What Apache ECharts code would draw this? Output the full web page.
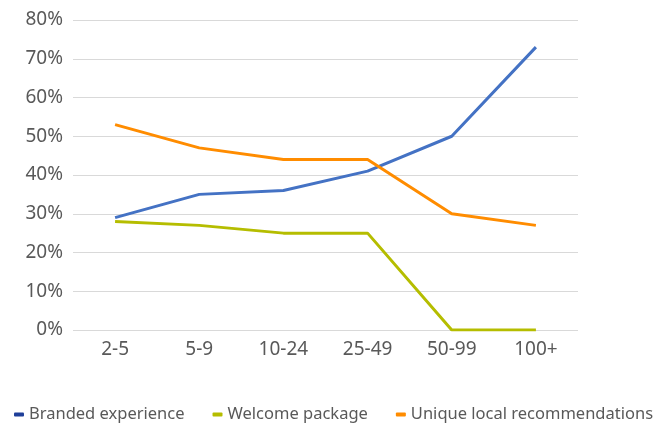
<!DOCTYPE html>
<html>
<head>
<meta charset="utf-8">
<script src="https://cdn.jsdelivr.net/npm/echarts@6/dist/echarts.min.js"></script>
<style>
  html, body { margin: 0; padding: 0; background: #fff; }
  #chart { width: 670px; height: 423px; }
</style>
</head>
<body>
<div id="chart"></div>
<script>
var categories = ['2-5', '5-9', '10-24', '25-49', '50-99', '100+'];
var branded = [29, 35, 36, 41, 50, 73];
var welcome = [28, 27, 25, 25, 0, 0];
var unique = [53, 47, 44, 44, 30, 27];

var chart = echarts.init(document.getElementById('chart'));

function line(name, data, color) {
  return {
    name: name,
    type: 'line',
    data: data,
    symbol: 'none',
    lineStyle: { color: color, width: 3 },
    itemStyle: { color: color }
  };
}

chart.setOption({
  animation: false,
  textStyle: { fontFamily: 'Noto Sans' },
  grid: { left: 73, right: 92, top: 20, bottom: 93 },
  legend: {
    bottom: -5,
    left: 9,
    icon: 'roundRect',
    itemWidth: 10,
    itemHeight: 4,
    itemGap: 28,
    textStyle: { color: '#595959', fontSize: 16.5 },
    data: [
      { name: 'Branded experience', itemStyle: { color: '#1f3f99' } },
      { name: 'Welcome package', itemStyle: { color: '#b5bd00' } },
      { name: 'Unique local recommendations', itemStyle: { color: '#ff8c00' } }
    ]
  },
  xAxis: {
    type: 'category',
    data: categories,
    boundaryGap: true,
    axisLine: { show: false },
    axisTick: { show: false },
    axisLabel: { color: '#595959', fontSize: 19, margin: 10 }
  },
  yAxis: {
    type: 'value',
    min: 0,
    max: 80,
    interval: 10,
    axisLine: { show: false },
    axisTick: { show: false },
    splitLine: { lineStyle: { color: '#d9d9d9', width: 1 } },
    axisLabel: { color: '#595959', fontSize: 19, margin: 10, formatter: '{value}%' }
  },
  series: [
    line('Branded experience', branded, '#4472c4'),
    line('Welcome package', welcome, '#b5bd00'),
    line('Unique local recommendations', unique, '#ff8c00')
  ]
});
</script>
</body>
</html>
